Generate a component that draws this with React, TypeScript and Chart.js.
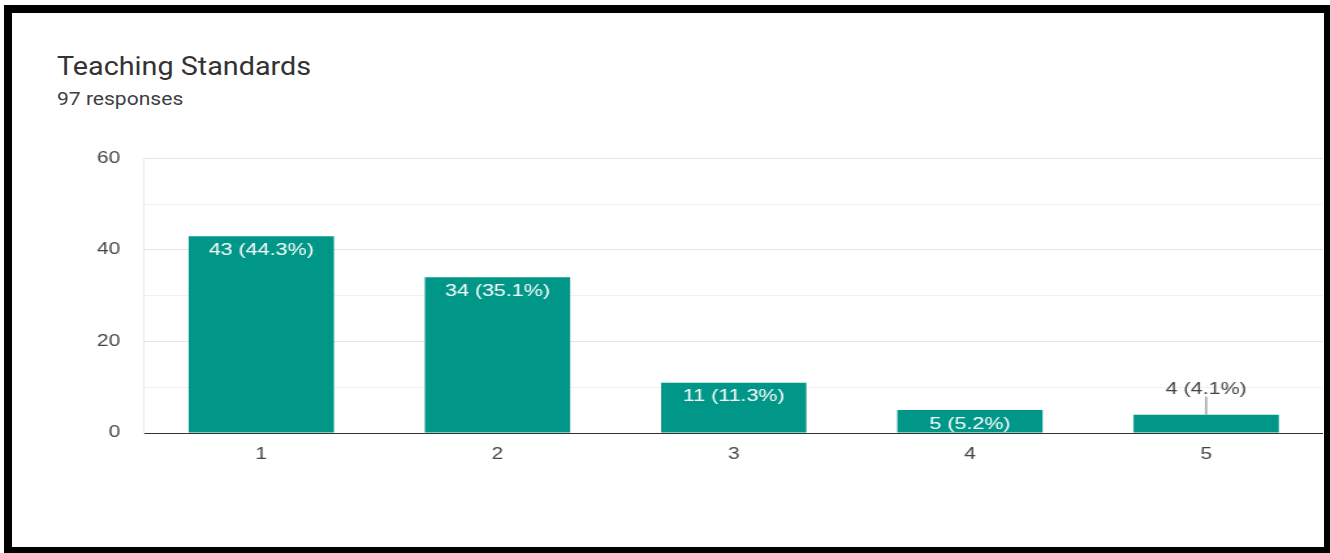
import React, { useEffect, useRef } from 'react';
import { Chart, registerables } from 'chart.js';

Chart.register(...registerables);

// ---- data ----
const categories = ['1', '2', '3', '4', '5'];
const counts = [43, 34, 11, 5, 4];
const percents = ['44.3', '35.1', '11.3', '5.2', '4.1'];
const yTickLabels = [0, 20, 40, 60];
const titleText = 'Teaching Standards';
const subtitleText = '97 responses';

const SX = 1.3; // horizontal stretch of the reference picture
const FONT = '"Liberation Sans", Arial, sans-serif';
const BAR = '#009688';

export default function App() {
  const ref = useRef<HTMLCanvasElement>(null);

  useEffect(() => {
    const valueLabels = {
      id: 'valueLabels',
      afterDatasetsDraw(chart: any) {
        const ctx = chart.ctx;
        const meta = chart.getDatasetMeta(0);
        ctx.save();
        ctx.font = `16.5px ${FONT}`;
        ctx.textAlign = 'center';
        ctx.textBaseline = 'middle';
        meta.data.forEach((bar: any, i: number) => {
          const { x, y, base } = bar.getProps(['x', 'y', 'base'], true);
          const h = base - y;
          const text = `${counts[i]} (${percents[i]}%)`;
          if (h >= 20) {
            ctx.fillStyle = '#ffffff';
            ctx.fillText(text, x, y + 14);
          } else {
            ctx.strokeStyle = '#777';
            ctx.lineWidth = 1;
            ctx.beginPath();
            ctx.moveTo(x, y);
            ctx.lineTo(x, y - 18);
            ctx.stroke();
            ctx.fillStyle = '#444';
            ctx.fillText(text, x, y - 25);
          }
        });
        ctx.restore();
      },
    };

    const chart = new Chart(ref.current as HTMLCanvasElement, {
      type: 'bar',
      data: {
        labels: categories,
        datasets: [
          {
            data: counts,
            backgroundColor: BAR,
            barPercentage: 0.615,
            categoryPercentage: 1,
          },
        ],
      },
      options: {
        animation: false,
        responsive: true,
        maintainAspectRatio: false,
        layout: { padding: { top: 18, bottom: 80, left: 0, right: 0 } },
        plugins: {
          legend: { display: false },
          tooltip: { enabled: false },
          title: { display: false },
        },
        scales: {
          x: {
            grid: { display: false, drawTicks: false },
            border: { display: true, color: '#333', width: 1 },
            ticks: { color: '#444', font: { family: FONT, size: 16 }, padding: 12 },
            afterFit(s: any) {
              s.height = 40;
            },
          },
          y: {
            min: 0,
            max: 60,
            grid: {
              drawTicks: false,
              color: (c: any) =>
                c.tick.value === 0 ? '#333' : c.tick.value % 20 === 0 ? '#e4e4e4' : '#f1f1f1',
            },
            border: { display: true, color: '#e8e8e8' },
            ticks: {
              stepSize: 10,
              color: '#444',
              font: { family: FONT, size: 16 },
              padding: 17.7,
              callback: (v: any) => (yTickLabels.includes(Number(v)) ? String(v) : ''),
            },
            afterFit(s: any) {
              s.width = 110;
            },
          },
        },
      },
      plugins: [valueLabels],
    } as any);
    return () => chart.destroy();
  }, []);

  return (
    <div
      style={{
        position: 'fixed',
        left: 0,
        top: 0,
        width: 1330,
        height: 553,
        background: '#fff',
        overflow: 'hidden',
      }}
    >
      <div
        style={{
          position: 'absolute',
          left: 57,
          top: 54,
          fontFamily: 'Roboto, sans-serif',
          fontSize: 25,
          lineHeight: '25px',
          color: '#333',
          whiteSpace: 'nowrap',
          transform: 'scaleX(1.15)',
          transformOrigin: '0 0',
        }}
      >
        {titleText}
      </div>
      <div
        style={{
          position: 'absolute',
          left: 57,
          top: 90,
          fontFamily: 'Roboto, sans-serif',
          fontSize: 18,
          lineHeight: '18px',
          color: '#3c4043',
          whiteSpace: 'nowrap',
          transform: 'scaleX(1.17)',
          transformOrigin: '0 0',
        }}
      >
        {subtitleText}
      </div>
      <div
        style={{
          position: 'absolute',
          left: 0,
          top: 131,
          width: 1323 / SX,
          height: 422,
          transform: `scaleX(${SX})`,
          transformOrigin: '0 0',
        }}
      >
        <canvas ref={ref} />
      </div>
      <div
        style={{
          position: 'absolute',
          left: 4,
          top: 5,
          width: 1326,
          height: 548,
          boxSizing: 'border-box',
          borderLeft: '8px solid #000',
          borderTop: '8px solid #000',
          borderRight: '6px solid #000',
          borderBottom: '6px solid #000',
          pointerEvents: 'none',
        }}
      />
    </div>
  );
}
